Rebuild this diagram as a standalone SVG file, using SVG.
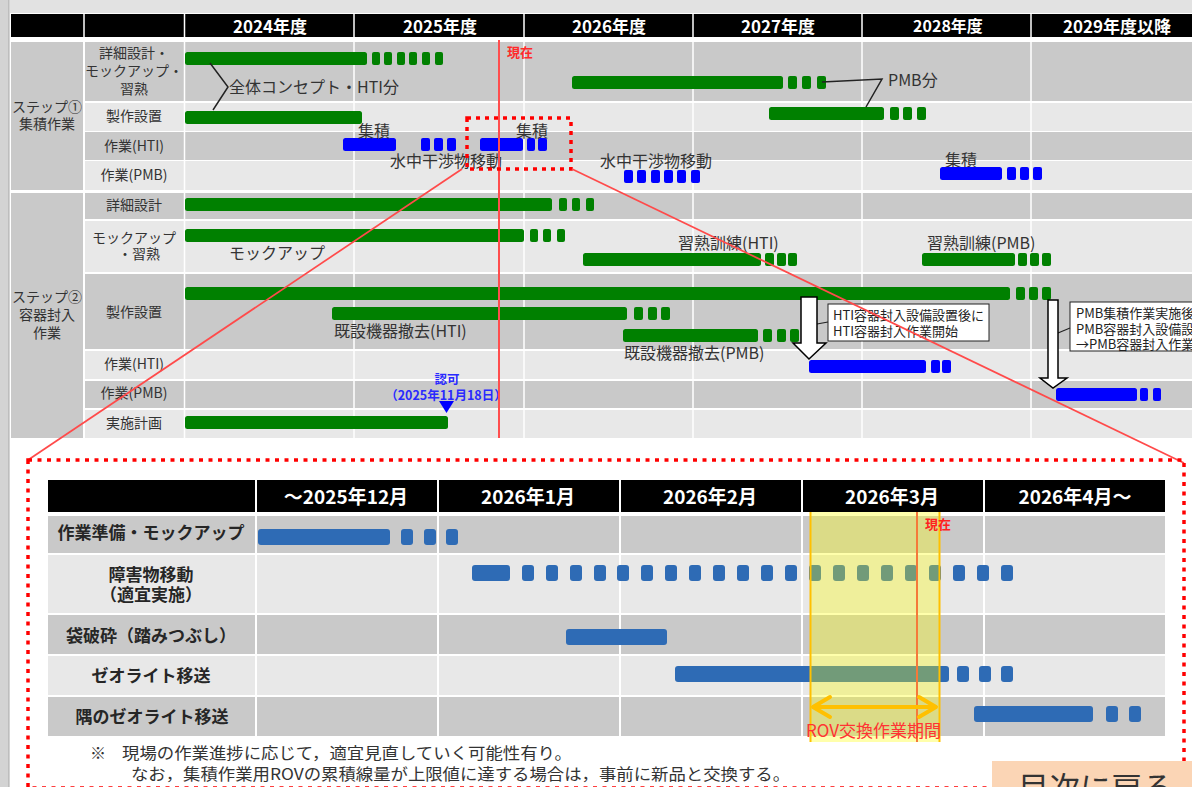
<svg xmlns="http://www.w3.org/2000/svg" width="1192" height="787" viewBox="0 0 1192 787">
<defs>
<style>
text{font-family:"Noto Sans CJK JP","Noto Sans",sans-serif;dominant-baseline:central}
.h{font-size:17px;font-weight:bold;fill:#fff;text-anchor:middle}
.l{font-size:14px;fill:#333;text-anchor:middle}
.c{font-size:16px;fill:#333}
.dk{fill:#c9c9c9}
.lt{fill:#e8e8e8}
.g{fill:#008000}
.b{fill:#0000ff}
.bb{fill:#2e6bb5}
.gl{stroke:#fff;stroke-width:1.5}
.bh{font-size:19px;font-weight:bold;fill:#fff;text-anchor:middle}
.bl{font-size:17px;font-weight:bold;fill:#262626;text-anchor:middle}
.n{font-size:16px;fill:#333}
.cb{font-size:13px;fill:#222}
.rl{stroke:#ff4a4a;stroke-width:1.7;fill:none}
.dot{fill:none;stroke:#ff0000;stroke-width:3.5;stroke-dasharray:4 5}
.arr{fill:#fff;stroke:#000;stroke-width:1.5}
</style>
</defs>
<rect width="1192" height="787" fill="#fff"/>
<rect width="1192" height="13" fill="#e2e2e2"/>
<rect width="10" height="787" fill="#d3d3d3"/>
<line x1="8.5" y1="0" x2="8.5" y2="787" stroke="#bdbdbd"/>

<g id="top-header">
<rect x="11" y="14" width="1181" height="23" fill="#000"/>
<g class="gl"><line x1="84" y1="14" x2="84" y2="37"/><line x1="184.5" y1="14" x2="184.5" y2="37"/><line x1="354" y1="14" x2="354" y2="37"/><line x1="524" y1="14" x2="524" y2="37"/><line x1="693" y1="14" x2="693" y2="37"/><line x1="862" y1="14" x2="862" y2="37"/><line x1="1031" y1="14" x2="1031" y2="37"/></g>
<text class="h" x="270" y="25">2024年度</text>
<text class="h" x="440" y="25">2025年度</text>
<text class="h" x="609" y="25">2026年度</text>
<text class="h" x="778" y="25">2027年度</text>
<text class="h" x="948" y="25" style="font-size:16px">2028年度</text>
<text class="h" x="1117" y="25">2029年度以降</text>
</g>

<g id="top-grid">
<rect class="dk" x="11" y="42" width="72" height="148"/>
<rect class="dk" x="85" y="42" width="1107" height="59"/>
<rect class="lt" x="85" y="103" width="1107" height="28"/>
<rect class="dk" x="85" y="132" width="1107" height="28"/>
<rect class="lt" x="85" y="161" width="1107" height="29"/>
<rect class="dk" x="11" y="193" width="72" height="245"/>
<rect class="dk" x="85" y="193" width="1107" height="26"/>
<rect class="lt" x="85" y="221" width="1107" height="51"/>
<rect class="dk" x="85" y="274" width="1107" height="75"/>
<rect class="lt" x="85" y="351" width="1107" height="28"/>
<rect class="dk" x="85" y="381" width="1107" height="27"/>
<rect class="lt" x="85" y="410" width="1107" height="28"/>
<g class="gl"><line x1="184.5" y1="42" x2="184.5" y2="438"/><line x1="354" y1="42" x2="354" y2="438"/><line x1="524" y1="42" x2="524" y2="438"/><line x1="693" y1="42" x2="693" y2="438"/><line x1="862" y1="42" x2="862" y2="438"/><line x1="1031" y1="42" x2="1031" y2="438"/></g>
</g>

<g id="top-labels">
<text class="l"><tspan x="47" y="106">ステップ①</tspan><tspan x="47" y="123">集積作業</tspan></text>
<text class="l"><tspan x="134" y="52">詳細設計・</tspan><tspan x="134" y="70">モックアップ・</tspan><tspan x="134" y="88">習熟</tspan></text>
<text class="l" x="134" y="115">製作設置</text>
<text class="l" x="134" y="145">作業(HTI)</text>
<text class="l" x="134" y="174">作業(PMB)</text>
<text class="l"><tspan x="47" y="296">ステップ②</tspan><tspan x="47" y="314">容器封入</tspan><tspan x="47" y="332">作業</tspan></text>
<text class="l" x="134" y="204">詳細設計</text>
<text class="l"><tspan x="134" y="237">モックアップ</tspan><tspan x="139" y="253">・習熟</tspan></text>
<text class="l" x="134" y="311">製作設置</text>
<text class="l" x="134" y="363">作業(HTI)</text>
<text class="l" x="134" y="392">作業(PMB)</text>
<text class="l" x="134" y="422">実施計画</text>
</g>

<g id="step1-design">
<rect class="g" x="185" y="52" width="182" height="13" rx="2.5"/>
<rect class="g" x="372" y="52" width="8" height="13" rx="2"/><rect class="g" x="384" y="52" width="8" height="13" rx="2"/><rect class="g" x="397" y="52" width="8" height="13" rx="2"/><rect class="g" x="409" y="52" width="8" height="13" rx="2"/><rect class="g" x="422" y="52" width="8" height="13" rx="2"/><rect class="g" x="435" y="52" width="8" height="13" rx="2"/>
<rect class="g" x="572" y="76" width="211" height="13" rx="2.5"/>
<rect class="g" x="788" y="76" width="9" height="13" rx="2"/><rect class="g" x="802" y="76" width="9" height="13" rx="2"/><rect class="g" x="817" y="76" width="9" height="13" rx="2"/>
<text class="c" x="229" y="86">全体コンセプト・HTI分</text>
<text class="c" x="888" y="79">PMB分</text>
</g>
<g id="step1-build">
<rect class="g" x="185" y="111" width="177" height="13" rx="2.5"/>
<rect class="g" x="769" y="107" width="115" height="13" rx="2.5"/>
<rect class="g" x="890" y="107" width="9" height="13" rx="2"/><rect class="g" x="903" y="107" width="9" height="13" rx="2"/><rect class="g" x="917" y="107" width="9" height="13" rx="2"/>
</g>
<g id="step1-hti">
<rect class="b" x="343" y="138" width="53" height="13" rx="2.5"/>
<rect class="b" x="421" y="138" width="9" height="13" rx="2"/><rect class="b" x="434" y="138" width="9" height="13" rx="2"/><rect class="b" x="447" y="138" width="9" height="13" rx="2"/>
<rect class="b" x="480" y="138" width="43" height="13" rx="2.5"/>
<rect class="b" x="527" y="138" width="8" height="13" rx="2"/><rect class="b" x="538" y="138" width="9" height="13" rx="2"/>
<text class="c" x="358" y="130">集積</text>
<text class="c" x="516" y="130">集積</text>
<text class="c" x="390" y="160">水中干渉物移動</text>
</g>
<g id="step1-pmb">
<text class="c" x="600" y="160">水中干渉物移動</text>
<rect class="b" x="624" y="170" width="9" height="13" rx="2"/><rect class="b" x="637" y="170" width="9" height="13" rx="2"/><rect class="b" x="651" y="170" width="9" height="13" rx="2"/><rect class="b" x="664" y="170" width="9" height="13" rx="2"/><rect class="b" x="677" y="170" width="9" height="13" rx="2"/><rect class="b" x="691" y="170" width="9" height="13" rx="2"/>
<text class="c" x="945" y="159">集積</text>
<rect class="b" x="940" y="167" width="62" height="13" rx="2.5"/>
<rect class="b" x="1007" y="167" width="9" height="13" rx="2"/><rect class="b" x="1020" y="167" width="9" height="13" rx="2"/><rect class="b" x="1033" y="167" width="9" height="13" rx="2"/>
</g>

<g id="step2-design">
<rect class="g" x="185" y="198" width="367" height="13" rx="2.5"/>
<rect class="g" x="559" y="198" width="8" height="13" rx="2"/><rect class="g" x="572" y="198" width="8" height="13" rx="2"/><rect class="g" x="586" y="198" width="8" height="13" rx="2"/>
</g>
<g id="step2-mockup">
<rect class="g" x="185" y="229" width="339" height="13" rx="2.5"/>
<rect class="g" x="530" y="229" width="8" height="13" rx="2"/><rect class="g" x="543" y="229" width="8" height="13" rx="2"/><rect class="g" x="557" y="229" width="8" height="13" rx="2"/>
<text class="c" x="229" y="252">モックアップ</text>
<text class="c" x="678" y="242">習熟訓練(HTI)</text>
<rect class="g" x="583" y="253" width="178" height="13" rx="2.5"/>
<rect class="g" x="765" y="253" width="9" height="13" rx="2"/><rect class="g" x="777" y="253" width="9" height="13" rx="2"/><rect class="g" x="788" y="253" width="9" height="13" rx="2"/>
<text class="c" x="927" y="242">習熟訓練(PMB)</text>
<rect class="g" x="922" y="253" width="93" height="13" rx="2.5"/>
<rect class="g" x="1018" y="253" width="9" height="13" rx="2"/><rect class="g" x="1030" y="253" width="9" height="13" rx="2"/><rect class="g" x="1042" y="253" width="9" height="13" rx="2"/>
</g>
<g id="step2-build">
<rect class="g" x="185" y="287" width="825" height="13" rx="2.5"/>
<rect class="g" x="1016" y="287" width="9" height="13" rx="2"/><rect class="g" x="1029" y="287" width="9" height="13" rx="2"/><rect class="g" x="1042" y="287" width="9" height="13" rx="2"/>
<rect class="g" x="332" y="307" width="295" height="13" rx="2.5"/>
<rect class="g" x="634" y="307" width="9" height="13" rx="2"/><rect class="g" x="648" y="307" width="9" height="13" rx="2"/><rect class="g" x="661" y="307" width="9" height="13" rx="2"/>
<text class="c" x="334" y="330">既設機器撤去(HTI)</text>
<rect class="g" x="623" y="329" width="135" height="13" rx="2.5"/>
<rect class="g" x="763" y="329" width="9" height="13" rx="2"/><rect class="g" x="777" y="329" width="9" height="13" rx="2"/><rect class="g" x="790" y="329" width="9" height="13" rx="2"/>
<text class="c" x="624" y="352">既設機器撤去(PMB)</text>
</g>
<g id="step2-hti">
<rect class="b" x="809" y="360" width="117" height="13" rx="2.5"/>
<rect class="b" x="931" y="360" width="9" height="13" rx="2"/><rect class="b" x="942" y="360" width="9" height="13" rx="2"/>
</g>
<g id="step2-pmb">
<rect class="b" x="1056" y="388" width="81" height="13" rx="2.5"/>
<rect class="b" x="1140" y="388" width="8" height="13" rx="2"/><rect class="b" x="1153" y="388" width="8" height="13" rx="2"/>
<text style="font-size:12.5px;font-weight:bold;fill:#2a2aff;text-anchor:middle"><tspan x="447" y="378">認可</tspan><tspan x="446" y="394">（2025年11月18日）</tspan></text>
<polygon points="439,401 454,401 446.5,413" fill="#0000ff"/>
</g>
<g id="step2-plan">
<rect class="g" x="185" y="416" width="263" height="13" rx="2.5"/>
</g>

<g id="callout-hti">
<rect x="828" y="304" width="161" height="37" fill="#fff" stroke="#222" stroke-width="1"/>
<text class="cb"><tspan x="833" y="314">HTI容器封入設備設置後に</tspan><tspan x="833" y="330">HTI容器封入作業開始</tspan></text>
</g>
<g id="callout-pmb">
<rect x="1070" y="302" width="130" height="49" fill="#fff" stroke="#222" stroke-width="1"/>
<text class="cb"><tspan x="1076" y="312">PMB集積作業実施後</tspan><tspan x="1076" y="328">PMB容器封入設備設</tspan><tspan x="1076" y="343">→PMB容器封入作業</tspan></text>
</g>

<g id="connectors">
<polyline points="210,63 228,87 213,110" fill="none" stroke="#222" stroke-width="1.5"/>
<polyline points="822,82 882,79 866,107" fill="none" stroke="#222" stroke-width="1.5"/>
<line x1="817" y1="324" x2="828" y2="322" stroke="#222" stroke-width="1.2"/>
<line x1="1058" y1="333" x2="1070" y2="328" stroke="#222" stroke-width="1.2"/>
<polygon class="arr" points="801,297 817,297 817,343 826,343 809,359 793,343 801,343"/>
<polygon class="arr" points="1048,300 1058,300 1058,378 1067,378 1053,388 1040,378 1048,378"/>
<line x1="499" y1="40" x2="499" y2="438" stroke="#ff4d4d" stroke-width="2"/>
<text x="507" y="51" style="font-size:13px;font-weight:bold;fill:#ff2a2a">現在</text>
<rect class="dot" x="467" y="118" width="104" height="51"/>
<line class="rl" x1="462" y1="169" x2="28" y2="460"/>
<line class="rl" x1="572" y1="169" x2="1184" y2="463"/>
<rect class="dot" x="28" y="460" width="1156" height="328" style="stroke-dasharray:4 5.5"/>
</g>

<g id="bottom-table">
<rect x="48" y="480" width="1117" height="32" fill="#000"/>
<rect class="dk" x="48" y="516" width="1117" height="37"/>
<rect class="lt" x="48" y="555" width="1117" height="58"/>
<rect class="dk" x="48" y="615" width="1117" height="39"/>
<rect class="lt" x="48" y="656" width="1117" height="39"/>
<rect class="dk" x="48" y="697" width="1117" height="39"/>
<g stroke="#fff" stroke-width="2"><line x1="256" y1="480" x2="256" y2="736"/><line x1="438" y1="480" x2="438" y2="736"/><line x1="620" y1="480" x2="620" y2="736"/><line x1="802" y1="480" x2="802" y2="736"/><line x1="984" y1="480" x2="984" y2="736"/></g>
<text class="bh" x="346" y="495">～2025年12月</text>
<text class="bh" x="528" y="495">2026年1月</text>
<text class="bh" x="710" y="495">2026年2月</text>
<text class="bh" x="892" y="495">2026年3月</text>
<text class="bh" x="1075" y="495">2026年4月～</text>
<text class="bl" x="151" y="531">作業準備・モックアップ</text>
<text class="bl"><tspan x="151" y="573">障害物移動</tspan><tspan x="151" y="593">（適宜実施）</tspan></text>
<text class="bl" x="151" y="634">袋破砕（踏みつぶし）</text>
<text class="bl" x="151" y="674">ゼオライト移送</text>
<text class="bl" x="152" y="715">隅のゼオライト移送</text>
</g>
<g id="bottom-bars">
<rect class="bb" x="258" y="529" width="132" height="16" rx="3"/>
<rect class="bb" x="401" y="529" width="12" height="16" rx="3"/><rect class="bb" x="424" y="529" width="12" height="16" rx="3"/><rect class="bb" x="446" y="529" width="12" height="16" rx="3"/>
<rect class="bb" x="472" y="565" width="38" height="16" rx="3"/>
<rect class="bb" x="522" y="565" width="12" height="16" rx="3"/><rect class="bb" x="546" y="565" width="12" height="16" rx="3"/><rect class="bb" x="570" y="565" width="12" height="16" rx="3"/><rect class="bb" x="594" y="565" width="12" height="16" rx="3"/><rect class="bb" x="617" y="565" width="12" height="16" rx="3"/><rect class="bb" x="641" y="565" width="12" height="16" rx="3"/><rect class="bb" x="665" y="565" width="12" height="16" rx="3"/><rect class="bb" x="689" y="565" width="12" height="16" rx="3"/><rect class="bb" x="713" y="565" width="12" height="16" rx="3"/><rect class="bb" x="737" y="565" width="12" height="16" rx="3"/><rect class="bb" x="761" y="565" width="12" height="16" rx="3"/><rect class="bb" x="785" y="565" width="12" height="16" rx="3"/><rect class="bb" x="809" y="565" width="12" height="16" rx="3"/><rect class="bb" x="833" y="565" width="12" height="16" rx="3"/><rect class="bb" x="857" y="565" width="12" height="16" rx="3"/><rect class="bb" x="881" y="565" width="12" height="16" rx="3"/><rect class="bb" x="905" y="565" width="12" height="16" rx="3"/><rect class="bb" x="929" y="565" width="12" height="16" rx="3"/><rect class="bb" x="953" y="565" width="12" height="16" rx="3"/><rect class="bb" x="977" y="565" width="12" height="16" rx="3"/><rect class="bb" x="1001" y="565" width="12" height="16" rx="3"/>
<rect class="bb" x="566" y="629" width="101" height="16" rx="3"/>
<rect class="bb" x="675" y="666" width="274" height="16" rx="3"/>
<rect class="bb" x="957" y="666" width="12" height="16" rx="3"/><rect class="bb" x="979" y="666" width="12" height="16" rx="3"/><rect class="bb" x="1001" y="666" width="12" height="16" rx="3"/>
<rect class="bb" x="974" y="706" width="119" height="16" rx="3"/>
<rect class="bb" x="1106" y="706" width="12" height="16" rx="3"/><rect class="bb" x="1129" y="706" width="12" height="16" rx="3"/>
</g>
<g id="rov-period">
<rect x="810" y="512" width="130" height="230" fill="#ffff00" fill-opacity="0.33"/>
<line x1="810.5" y1="512" x2="810.5" y2="742" stroke="#ffc000" stroke-width="2"/>
<line x1="939.5" y1="512" x2="939.5" y2="742" stroke="#ffc000" stroke-width="2"/>
<line x1="917" y1="512" x2="917" y2="742" stroke="#f5793a" stroke-width="2"/>
<text x="925" y="523" style="font-size:13px;font-weight:bold;fill:#ff2020">現在</text>
<g stroke="#ffc000" stroke-width="4" fill="none" stroke-linecap="round" stroke-linejoin="round">
<line x1="814" y1="707" x2="935" y2="707"/>
<polyline points="830,697 813,707 830,717"/>
<polyline points="919,697 936,707 919,717"/>
</g>
<text x="806" y="729" style="font-size:17px;fill:#ff3333">ROV交換作業期間</text>
</g>
<g id="footnote">
<text class="n" x="90" y="752">※</text>
<text class="n" x="122" y="752" textLength="450" lengthAdjust="spacingAndGlyphs">現場の作業進捗に応じて，適宜見直していく可能性有り。</text>
<text class="n" x="131" y="773" textLength="659" lengthAdjust="spacingAndGlyphs">なお，集積作業用ROVの累積線量が上限値に達する場合は，事前に新品と交換する。</text>
</g>
<g id="toc-button">
<rect x="992" y="761" width="200" height="30" fill="#fbd5b5"/>
<text x="1018" y="799" style="font-size:31px;fill:#333;dominant-baseline:alphabetic">目次に戻る</text>
</g>
</svg>
